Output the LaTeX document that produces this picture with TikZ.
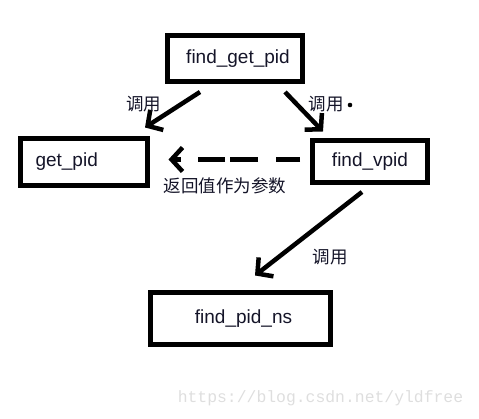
\documentclass[tikz,border=0pt]{standalone}
\usepackage{fontspec}
\setmainfont{Liberation Sans}
\setmonofont{Liberation Mono}
\newfontfamily\cjk{Noto Sans CJK SC}
\usetikzlibrary{arrows.meta}
\definecolor{txt}{RGB}{20,20,40}
\definecolor{wm}{RGB}{222,222,222}
\begin{document}
\begin{tikzpicture}[x=1pt,y=1pt,
  box/.style={draw=black,line width=5pt,inner sep=0pt,rectangle,
    font=\fontsize{19}{22}\selectfont,text=txt},
  arr/.style={line width=4.5pt,-{Straight Barb[length=11pt,width=24pt,line width=4.5pt]}},
  lbl/.style={font=\cjk\fontsize{17.5}{20}\selectfont,text=txt,inner sep=0pt}]
\useasboundingbox (0,0) rectangle (479,419);
\node[box,minimum width=135pt,minimum height=46pt] (fgp) at (235,360.5) {\hspace{6pt}find\_get\_pid};
\node[box,minimum width=127pt,minimum height=47pt,text width=113pt,align=left] (gp) at (84,257) {\hspace{8pt}get\_pid};
\node[box,minimum width=115pt,minimum height=42pt] (fv) at (370,257.5) {find\_vpid};
\node[box,minimum width=180pt,minimum height=52pt] (fpn) at (240.5,100.5) {\hspace{6pt}find\_pid\_ns};
\draw[arr] ([xshift=-35pt,yshift=-8pt]fgp.south) -- ([xshift=61pt,yshift=8.5pt]gp.north);
\draw[arr] ([xshift=50pt,yshift=-8pt]fgp.south) -- ([xshift=-47pt,yshift=6.5pt]fv.north);
\draw[arr,dash pattern=on 24pt off 18pt on 28pt off 5pt on 27pt off 17pt on 12pt off 40pt] ([xshift=-10pt,yshift=2pt]fv.west) -- ([xshift=18.5pt,yshift=2.5pt]gp.east);
\draw[arr] ([xshift=-8pt,yshift=-7pt]fv.south) -- ([xshift=14.5pt,yshift=14.5pt]fpn.north);
\node[lbl] (l1) at (143.5,314.5) {调用};
\node[lbl] (l2) at (326,314.5) {调用};
\fill[black] (350,314) circle (2.3pt);
\node[lbl] (l3) at (225,233) {返回值作为参数};
\node[lbl] (l4) at (330,162) {调用};
\node[font=\ttfamily\fontsize{16.4}{18}\selectfont,text=wm,inner sep=0pt] (wmk) at (320.5,20.5) {https://blog.csdn.net/yldfree};
\end{tikzpicture}
\end{document}
